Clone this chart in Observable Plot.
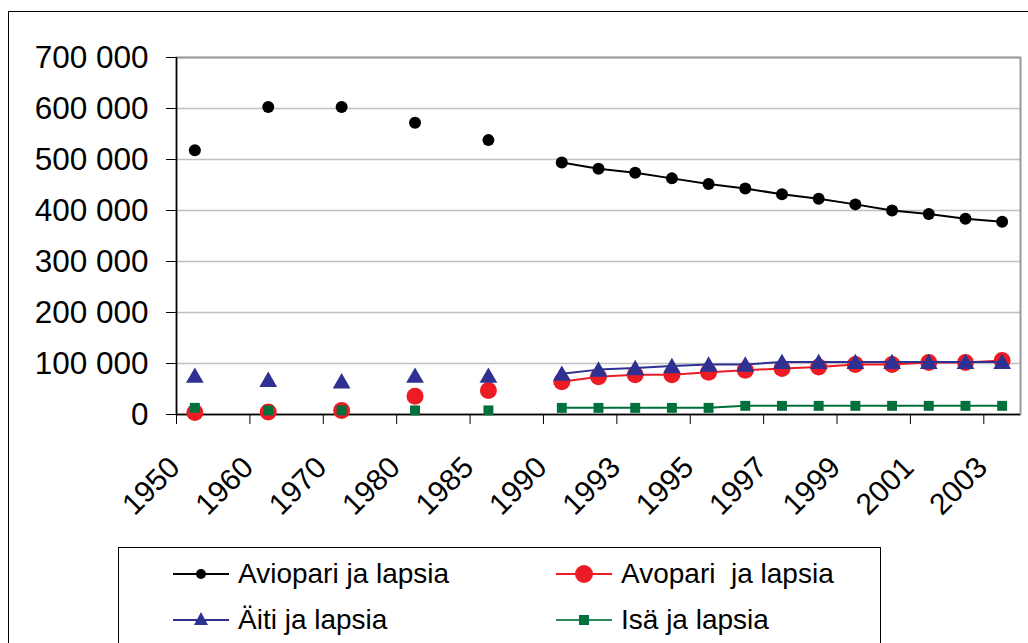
<!DOCTYPE html>
<html><head><meta charset="utf-8">
<script src="https://cdn.jsdelivr.net/npm/d3@7"></script>
<script src="https://cdn.jsdelivr.net/npm/@observablehq/plot@0.6"></script>
<style>
html,body{margin:0;padding:0;background:#fff;overflow:hidden;width:1028px;height:643px;}
body{font-family:"Liberation Sans",Arial,sans-serif;position:relative;}
#frame{position:absolute;left:8px;top:11px;width:1100px;height:700px;border:1.5px solid #000;box-sizing:border-box;}
#chart{position:absolute;left:0;top:0;}
#legend{position:absolute;left:118px;top:547px;width:763px;height:120px;border:1.5px solid #000;box-sizing:border-box;background:#fff;}
.item{position:absolute;display:flex;align-items:center;font-size:28px;color:#000;white-space:pre;line-height:1;}
.item svg{margin-right:9px;}
</style>
</head><body>
<div id="frame"></div>
<div id="chart"></div>
<div id="legend"></div>
<script>
// Categories (empty strings are the blank slots between the early years)
const categories = ["1950","","1960","","1970","","1980","","1985","","1990","1992","1993","1994","1995","1996","1997","1998","1999","2000","2001","2002","2003"];
const seriesNames = ["Aviopari ja lapsia","Avopari  ja lapsia","Äiti ja lapsia","Isä ja lapsia"];
const aviopari = [518000,null,603000,null,603000,null,572000,null,538000,null,494000,482000,474000,463000,452000,443000,432000,423000,412000,400000,393000,384000,378000];
const avopari  = [4000,null,5000,null,8000,null,36000,null,47000,null,64000,74000,78000,78000,83000,87000,90000,93000,98000,98000,102000,102000,106000];
const aiti     = [76000,null,68000,null,65000,null,76000,null,76000,null,80000,88000,91000,95000,98000,98000,103000,103000,103000,103000,103000,103000,103000];
const isa      = [13000,null,8000,null,8000,null,8000,null,8000,null,13000,13000,13000,13000,13000,17000,17000,17000,17000,17000,17000,17000,17000];
const yTicks = [0,100000,200000,300000,400000,500000,600000,700000];

const colors = ["#000000","#ed1c24","#2e3192","#00703c"];
const symbols = ["circle","circle","triangle","square"];
const radii = [6,8.5,6.6,5.6];
const allValues = [aviopari, avopari, aiti, isa];

const rows = [];
allValues.forEach((vals, s) => vals.forEach((v, i) => rows.push({i, series: seriesNames[s], value: v})));

const xDomain = [-0.5, categories.length - 0.5];
const boundaryTicks = d3.range(-0.5, categories.length - 1, 2);
const labelIdx = d3.range(0, categories.length, 2);
const fmt = d => d3.format(",")(d).replace(/,/g, " ");

const marks = [
  Plot.gridY(yTicks, {stroke: "#c0c0c0", strokeOpacity: 1, strokeWidth: 1.5}),
  Plot.frame({stroke: "#9a9a9a", strokeWidth: 2}),
  Plot.ruleY([0], {stroke: "#000", strokeWidth: 1.5}),
  Plot.ruleX([xDomain[0]], {stroke: "#000", strokeWidth: 1.5}),
  Plot.axisY({ticks: yTicks, tickFormat: fmt, tickSize: 10, tickPadding: 18, fontSize: 31.5, label: null, stroke: "#000"}),
  Plot.axisX({ticks: boundaryTicks, tickFormat: () => "", tickSize: 10, label: null, stroke: "#000"}),
  Plot.text(labelIdx, {x: d => d, frameAnchor: "bottom", text: d => categories[d], rotate: -45, textAnchor: "end", lineAnchor: "middle", fontSize: 30, dx: -20, dy: 48, fill: "#000"})
];
seriesNames.forEach((name, s) => {
  const data = rows.filter(r => r.series === name);
  marks.push(Plot.line(data, {x: "i", y: "value", stroke: colors[s], strokeWidth: 2}));
  marks.push(Plot.dot(data.filter(d => d.value != null), {x: "i", y: "value", fill: colors[s], stroke: "none", symbol: symbols[s], r: radii[s], dy: s === 2 ? 2 : 0}));
});

const chart = Plot.plot({
  width: 1028, height: 540,
  marginLeft: 176, marginRight: 8, marginTop: 57, marginBottom: 126,
  style: {fontFamily: "'Liberation Sans', Arial, sans-serif", color: "#000", background: "transparent", overflow: "visible"},
  x: {type: "linear", domain: xDomain, axis: null},
  y: {domain: [0, 700000], axis: null},
  marks
});
document.getElementById("chart").append(chart);

// Legend
const legend = document.getElementById("legend");
const pos = [[54,26],[437,26],[54,72],[437,72]];
seriesNames.forEach((name, s) => {
  const item = document.createElement("div");
  item.className = "item";
  item.style.left = pos[s][0] + "px";
  item.style.top = (pos[s][1] - 16) + "px";
  let marker;
  if (symbols[s] === "circle") marker = `<circle cx="28" cy="16" r="${s===0?5:9}" fill="${colors[s]}"/>`;
  else if (symbols[s] === "triangle") marker = `<path d="M28,8 L35,21 L21,21 Z" fill="${colors[s]}"/>`;
  else marker = `<rect x="23" y="11" width="10" height="10" fill="${colors[s]}"/>`;
  item.innerHTML = `<svg width="56" height="32"><line x1="0" x2="56" y1="16" y2="16" stroke="${s===3?'#2e8b5a':colors[s]}" stroke-width="2"/>${marker}</svg><span>${name}</span>`;
  legend.append(item);
});
</script>
</body></html>
